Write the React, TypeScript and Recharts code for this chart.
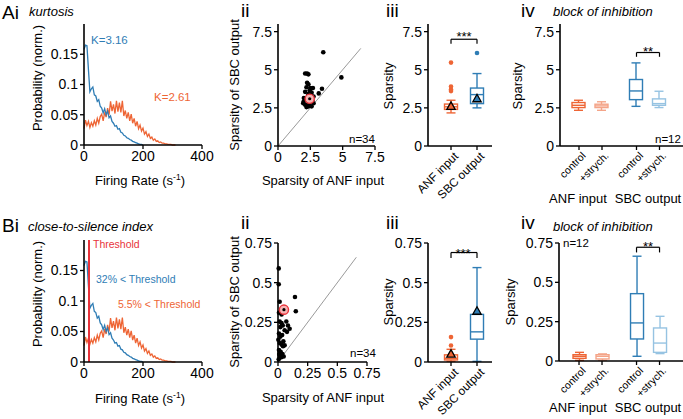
import React from "react"
import { ComposedChart, Line, Scatter, Bar, XAxis, YAxis, ReferenceLine } from "recharts"

const BLUE = "#2f7db5"
const ORANGE = "#ee6535"
const LIGHT_ORANGE = "#f4a488"
const LIGHT_BLUE = "#96c3e2"
const RED = "#e8333b"
const FONT = "'Liberation Sans', Arial, Helvetica, sans-serif"

// firing rate histograms, 5 Hz bins
const rateBins = [
  0, 5, 10, 15, 20, 25, 30, 35, 40, 45, 50, 55, 60, 65, 70, 75, 80, 85, 90, 95, 100,
  105, 110, 115, 120, 125, 130, 135, 140, 145, 150, 155, 160, 165, 170, 175, 180, 185, 190, 195, 200,
  205, 210, 215, 220, 225, 230, 235, 240, 245, 250, 255, 260, 265, 270, 275, 280, 285, 290, 295, 300,
  305, 310,
]
const sbcProb = [
  0.158, 0.165, 0.164, 0.125, 0.088, 0.093, 0.096, 0.083, 0.081, 0.072, 0.075, 0.064, 0.061, 0.053,
  0.06, 0.05, 0.056, 0.045, 0.048, 0.039, 0.036, 0.031, 0.032, 0.026, 0.027, 0.021, 0.02, 0.016, 0.015,
  0.012, 0.011, 0.009, 0.008, 0.006, 0.005, 0.004, 0.003, 0.002, 0.001, 0.001, 0,
]
const anfProb = [
  0.027, 0.041, 0.032, 0.039, 0.029, 0.037, 0.031, 0.04, 0.033, 0.044, 0.036, 0.047, 0.051, 0.04,
  0.054, 0.046, 0.061, 0.05, 0.072, 0.056, 0.067, 0.052, 0.073, 0.055, 0.07, 0.054, 0.073, 0.048,
  0.057, 0.044, 0.054, 0.04, 0.051, 0.036, 0.044, 0.031, 0.039, 0.027, 0.033, 0.023, 0.028, 0.018,
  0.022, 0.014, 0.018, 0.011, 0.013, 0.008, 0.01, 0.006, 0.007, 0.004, 0.005, 0.003, 0.003, 0.002,
  0.002, 0.001, 0.001, 0.001, 0, 0, 0,
]

// kurtosis per cell: ANF input vs SBC output
const kurtAnf = [
  3.5, 4.9, 3.4, 3.15, 2.1, 2.25, 2.35, 2.25, 2.35, 2.2, 2.5, 2.7, 2.1, 2.35, 2.6, 2.45, 2.0,
  2.25, 2.5, 2.75, 1.95, 2.1, 2.35, 2.6, 2.75, 1.98, 2.2, 2.5, 2.3, 2.55, 2.15, 2.4, 2.65,
]
const kurtSbc = [
  6.15, 4.5, 3.75, 3.45, 4.75, 4.75, 4.7, 4.15, 4.05, 3.85, 3.8, 3.8, 3.55, 3.4, 3.5, 3.65, 3.15,
  3.0, 3.05, 3.25, 2.8, 2.7, 2.6, 2.6, 2.8, 2.9, 2.55, 2.9, 3.2, 3.35, 3.1, 2.75, 3.0,
]
const kurtExample = [2.45, 3.1]

// close-to-silence index per cell
const ctsAnf = [
  0.006, 0.006, 0.014, 0.008, 0.03, 0.014, 0.03, 0.04, 0.143, 0.15, 0.07, 0.084, 0.098, 0.076,
  0.056, 0.008, 0.02, 0.003, 0.014, 0.03, 0.042, 0.056, 0.008, 0.022, 0.037, 0.014, 0.028, 0.048,
  0.006, 0.02, 0.045, 0.01, 0.035,
]
const ctsSbc = [
  0.59, 0.49, 0.38, 0.31, 0.3, 0.255, 0.245, 0.23, 0.41, 0.32, 0.255, 0.23, 0.21, 0.19, 0.2, 0.18,
  0.16, 0.14, 0.12, 0.11, 0.1, 0.105, 0.075, 0.065, 0.05, 0.04, 0.03, 0.035, 0.017, 0.22, 0.13,
  0.05, 0.17,
]
const ctsExample = [0.05, 0.33]

// box plots: [min, q1, median, q3, max]
const groupLabels = ["ANF input", "SBC output"]
const groupSlots = [0, 1]
const kurtBoxes = [
  [2.17, 2.4, 2.57, 2.75, 3.0],
  [2.5, 2.78, 3.37, 3.8, 4.75],
]
const kurtOutliers = [[3.6, 3.7, 3.9, 5.47], [6.1]]
const kurtMeans = [2.6, 3.1]
const ctsBoxes = [
  [0.004, 0.013, 0.023, 0.045, 0.08],
  [0.004, 0.144, 0.19, 0.3, 0.595],
]
const ctsOutliers = [[0.104, 0.157], []]
const ctsMeans = [0.05, 0.32]

const blockLabels = ["control", "+strych.", "control", "+strych."]
const blockSlots = [0, 1, 2.5, 3.5]
const kurtBlockBoxes = [
  [2.34, 2.52, 2.67, 2.85, 3.0],
  [2.34, 2.52, 2.63, 2.74, 2.9],
  [2.6, 3.04, 3.61, 4.36, 5.45],
  [2.52, 2.67, 2.78, 3.09, 3.59],
]
const ctsBlockBoxes = [
  [0.004, 0.017, 0.03, 0.04, 0.055],
  [0.004, 0.013, 0.03, 0.04, 0.045],
  [0.03, 0.14, 0.242, 0.428, 0.666],
  [0.047, 0.055, 0.114, 0.21, 0.284],
]

type Plot = { l: number; r: number; t: number; b: number }

const YW = 50
const MT = 8
const MR = 16

function frame(p: Plot, xh: number): React.CSSProperties {
  return {
    position: "absolute",
    left: p.l - YW,
    top: p.t - MT,
    width: p.r - p.l + YW + MR,
    height: p.b - p.t + MT + xh,
  }
}

function size(p: Plot, xh: number) {
  return { width: p.r - p.l + YW + MR, height: p.b - p.t + MT + xh }
}

const axisProps = {
  axisLine: { stroke: "#000", strokeWidth: 1.6 },
  tickLine: { stroke: "#000", strokeWidth: 1.3 },
  tickSize: 4,
  tick: { fill: "#000", fontSize: 14, fontFamily: FONT },
  interval: 0 as const,
}

function HistPanel({ p, threshold }: { p: Plot; threshold?: number }) {
  const sbc = sbcProb.map((v, i) => ({ x: rateBins[i], p: v }))
  const anf = anfProb.map((v, i) => ({ x: rateBins[i], p: v }))
  return (
    <div style={frame(p, 30)}>
      <ComposedChart {...size(p, 30)} margin={{ top: MT, right: MR, bottom: 0, left: 0 }}>
        <XAxis type="number" dataKey="x" domain={[0, 400]} ticks={[0, 200, 400]} height={30} {...axisProps} />
        <YAxis type="number" domain={[0, 0.2]} ticks={[0, 0.05, 0.1, 0.15]} width={YW} {...axisProps} />
        <Line data={anf} dataKey="p" type="linear" stroke={ORANGE} strokeWidth={1.3} dot={false} isAnimationActive={false} />
        <Line data={sbc} dataKey="p" type="linear" stroke={BLUE} strokeWidth={1.3} dot={false} isAnimationActive={false} />
        {threshold != null && <ReferenceLine x={threshold} stroke={RED} strokeWidth={2} />}
      </ComposedChart>
    </div>
  )
}

const Dot = (props: any) => <circle cx={props.cx} cy={props.cy} r={2.3} fill="#000" />

const ExampleDot = (props: any) => (
  <g>
    <circle cx={props.cx} cy={props.cy} r={4.6} fill="#f6b3b3" stroke={RED} strokeWidth={1.4} />
    <circle cx={props.cx} cy={props.cy} r={1.6} fill="#000" />
  </g>
)

function ScatterPanel(props: {
  p: Plot
  xs: number[]
  ys: number[]
  example: number[]
  xMax: number
  yMax: number
  ticks: number[]
  diagEnd: number
}) {
  const { p, xs, ys, example, xMax, yMax, ticks, diagEnd } = props
  const pts = xs.map((x, i) => ({ x, y: ys[i] }))
  const ex = [{ x: example[0], y: example[1] }]
  return (
    <div style={frame(p, 30)}>
      <ComposedChart {...size(p, 30)} margin={{ top: MT, right: MR, bottom: 0, left: 0 }}>
        <XAxis type="number" dataKey="x" domain={[0, xMax]} ticks={ticks} height={30} {...axisProps} />
        <YAxis type="number" dataKey="y" domain={[0, yMax]} ticks={ticks} width={YW} {...axisProps} />
        <ReferenceLine
          segment={[{ x: 0, y: 0 }, { x: diagEnd, y: diagEnd }]}
          stroke="#9a9a9a"
          strokeWidth={1}
        />
        <Scatter data={pts} dataKey="y" shape={<Dot />} isAnimationActive={false} />
        <Scatter data={ex} dataKey="y" shape={<ExampleDot />} isAnimationActive={false} />
      </ComposedChart>
    </div>
  )
}

function BoxShape(props: any) {
  const { x, y, width, height, color } = props
  const stats: number[] = props.payload?.stats ?? props.stats
  if (!stats) return null
  const [lo, q1, med, q3, hi] = stats
  const top = Math.min(y, y + height)
  const bot = Math.max(y, y + height)
  const py = (v: number) => bot - ((v - lo) / (hi - lo)) * (bot - top)
  const cx = x + width / 2
  const bw = 13
  const cw = 9
  return (
    <g stroke={color} strokeWidth={1.4} fill="none">
      <line x1={cx} x2={cx} y1={py(hi)} y2={py(q3)} />
      <line x1={cx} x2={cx} y1={py(q1)} y2={py(lo)} />
      <line x1={cx - cw / 2} x2={cx + cw / 2} y1={py(hi)} y2={py(hi)} />
      <line x1={cx - cw / 2} x2={cx + cw / 2} y1={py(lo)} y2={py(lo)} />
      <rect x={cx - bw / 2} y={py(q3)} width={bw} height={Math.max(0.5, py(q1) - py(q3))} />
      <line x1={cx - bw / 2} x2={cx + bw / 2} y1={py(med)} y2={py(med)} />
    </g>
  )
}

const Outlier = (props: any) => (
  <circle cx={props.cx} cy={props.cy} r={2.3} fill={props.payload?.color ?? "#000"} />
)

const MeanMark = (props: any) => {
  const { cx, cy } = props
  return (
    <polygon
      points={`${cx},${cy - 4.5} ${cx - 4.2},${cy + 3} ${cx + 4.2},${cy + 3}`}
      fill={props.payload?.color}
      stroke="#000"
      strokeWidth={1.3}
    />
  )
}

const SlantTick = (props: any) => {
  const { x, y, payload, labels, slots, fontSize } = props
  const i = slots.indexOf(payload.value)
  return (
    <g transform={`translate(${x + 2},${y - 1}) rotate(-45)`}>
      <text textAnchor="end" dy="0.72em" fontSize={fontSize} fill="#000" fontFamily={FONT}>
        {labels[i]}
      </text>
    </g>
  )
}

function BoxPanel(props: {
  p: Plot
  slots: number[]
  labels: string[]
  labelSize: number
  boxes: number[][]
  colors: string[]
  outliers?: number[][]
  means?: number[]
  xDomain: [number, number]
  yMax: number
  yTicks: number[]
  bracket: [number, number, number, number]
}) {
  const { p, slots, labels, labelSize, boxes, colors, outliers, means, xDomain, yMax, yTicks, bracket } = props
  const rows = boxes.map((s, i) => ({ x: slots[i], y: s[2], range: [s[0], s[4]], stats: s }))
  const outPts = (outliers ?? []).flatMap((arr, i) => arr.map((v) => ({ x: slots[i], y: v, color: colors[i] })))
  const meanPts = (means ?? []).map((v, i) => ({ x: slots[i], y: v, color: colors[i] }))
  const [xa, xb, yTop, yLeg] = bracket
  const br = { stroke: "#000", strokeWidth: 1.2 }
  const XH = 56
  return (
    <div style={frame(p, XH)}>
      <ComposedChart data={rows} {...size(p, XH)} margin={{ top: MT, right: MR, bottom: 0, left: 0 }}>
        <XAxis
          type="number"
          dataKey="x"
          domain={xDomain}
          ticks={slots}
          height={XH}
          {...axisProps}
          tick={<SlantTick labels={labels} slots={slots} fontSize={labelSize} />}
        />
        <YAxis type="number" dataKey="y" domain={[0, yMax]} ticks={yTicks} width={YW} {...axisProps} />
        <Bar
          dataKey="range"
          barSize={12}
          isAnimationActive={false}
          shape={(bp: any) => {
            const i = slots.indexOf(bp.payload?.x ?? bp.x)
            return <BoxShape {...bp} color={colors[i]} />
          }}
        />
        {outPts.length > 0 && <Scatter data={outPts} dataKey="y" shape={<Outlier />} isAnimationActive={false} />}
        {meanPts.length > 0 && <Scatter data={meanPts} dataKey="y" shape={<MeanMark />} isAnimationActive={false} />}
        <ReferenceLine segment={[{ x: xa, y: yTop }, { x: xb, y: yTop }]} {...br} />
        <ReferenceLine segment={[{ x: xa, y: yTop }, { x: xa, y: yLeg }]} {...br} />
        <ReferenceLine segment={[{ x: xb, y: yTop }, { x: xb, y: yLeg }]} {...br} />
      </ComposedChart>
    </div>
  )
}

type Txt = {
  x: number
  y: number
  s: string
  size?: number
  color?: string
  anchor?: "start" | "middle" | "end"
  italic?: boolean
  rot?: boolean
}

const labels: Txt[] = [
  { x: 2, y: 19, s: "Ai", size: 19 },
  { x: 29, y: 16, s: "kurtosis", size: 13, italic: true },
  { x: 42, y: 78, s: "Probability (norm.)", size: 13, anchor: "middle", rot: true },
  { x: 91, y: 44, s: "K=3.16", size: 11.5, color: BLUE },
  { x: 154, y: 101, s: "K=2.61", size: 11.5, color: ORANGE },
  { x: 241, y: 17, s: "ii", size: 19 },
  { x: 239, y: 85, s: "Sparsity of SBC output", size: 13, anchor: "middle", rot: true },
  { x: 323, y: 185, s: "Sparsity of ANF input", size: 13, anchor: "middle" },
  { x: 349, y: 143, s: "n=34", size: 11.5 },
  { x: 386, y: 17, s: "iii", size: 19 },
  { x: 393, y: 86, s: "Sparsity", size: 13, anchor: "middle", rot: true },
  { x: 464, y: 41, s: "***", size: 13, anchor: "middle" },
  { x: 521, y: 17, s: "iv", size: 19 },
  { x: 553, y: 16, s: "block of inhibition", size: 13, italic: true },
  { x: 522, y: 86, s: "Sparsity", size: 13, anchor: "middle", rot: true },
  { x: 648, y: 56, s: "**", size: 13, anchor: "middle" },
  { x: 655, y: 143, s: "n=12", size: 11.5 },
  { x: 578, y: 203, s: "ANF input", size: 13, anchor: "middle" },
  { x: 648, y: 203, s: "SBC output", size: 13, anchor: "middle" },

  { x: 2, y: 232, s: "Bi", size: 19 },
  { x: 28, y: 231, s: "close-to-silence index", size: 13, italic: true },
  { x: 42, y: 294, s: "Probability (norm.)", size: 13, anchor: "middle", rot: true },
  { x: 93, y: 248, s: "Threshold", size: 10.5, color: RED },
  { x: 96, y: 283, s: "32% < Threshold", size: 10.5, color: BLUE },
  { x: 118, y: 308, s: "5.5% < Threshold", size: 10.5, color: ORANGE },
  { x: 241, y: 229, s: "ii", size: 19 },
  { x: 239, y: 302, s: "Sparsity of SBC output", size: 13, anchor: "middle", rot: true },
  { x: 323, y: 402, s: "Sparsity of ANF input", size: 13, anchor: "middle" },
  { x: 350, y: 357, s: "n=34", size: 11.5 },
  { x: 386, y: 229, s: "iii", size: 19 },
  { x: 393, y: 302, s: "Sparsity", size: 13, anchor: "middle", rot: true },
  { x: 463, y: 258, s: "***", size: 13, anchor: "middle" },
  { x: 521, y: 229, s: "iv", size: 19 },
  { x: 553, y: 231, s: "block of inhibition", size: 13, italic: true },
  { x: 515, y: 302, s: "Sparsity", size: 13, anchor: "middle", rot: true },
  { x: 563, y: 247, s: "n=12", size: 11.5 },
  { x: 648, y: 251, s: "**", size: 13, anchor: "middle" },
  { x: 578, y: 412, s: "ANF input", size: 13, anchor: "middle" },
  { x: 648, y: 412, s: "SBC output", size: 13, anchor: "middle" },
]

function RateLabel({ x, y }: { x: number; y: number }) {
  return (
    <text x={x} y={y} textAnchor="middle" fontSize={13} fill="#000">
      Firing Rate (s
      <tspan dy={-5} fontSize={8.5}>-1</tspan>
      <tspan dy={5}>)</tspan>
    </text>
  )
}

export default function App() {
  return (
    <div
      style={{
        position: "absolute",
        left: 0,
        top: 0,
        width: 683,
        height: 419,
        overflow: "hidden",
        background: "#fff",
        fontFamily: FONT,
      }}
    >
      <HistPanel p={{ l: 84, r: 202, t: 24, b: 145 }} />
      <HistPanel p={{ l: 84, r: 202, t: 240, b: 362 }} threshold={17} />

      <ScatterPanel
        p={{ l: 278, r: 375, t: 24, b: 146 }}
        xs={kurtAnf}
        ys={kurtSbc}
        example={kurtExample}
        xMax={7.5}
        yMax={8}
        ticks={[0, 2.5, 5, 7.5]}
        diagEnd={6.4}
      />
      <ScatterPanel
        p={{ l: 278, r: 367, t: 243, b: 362 }}
        xs={ctsAnf}
        ys={ctsSbc}
        example={ctsExample}
        xMax={0.75}
        yMax={0.75}
        ticks={[0, 0.25, 0.5, 0.75]}
        diagEnd={0.66}
      />

      <BoxPanel
        p={{ l: 428, r: 492, t: 24, b: 146 }}
        slots={groupSlots}
        labels={groupLabels}
        labelSize={11.8}
        boxes={kurtBoxes}
        colors={[ORANGE, BLUE]}
        outliers={kurtOutliers}
        means={kurtMeans}
        xDomain={[-0.885, 1.577]}
        yMax={8}
        yTicks={[0, 2.5, 5, 7.5]}
        bracket={[0, 1, 7.0, 6.7]}
      />
      <BoxPanel
        p={{ l: 428, r: 492, t: 243, b: 362 }}
        slots={groupSlots}
        labels={groupLabels}
        labelSize={11.8}
        boxes={ctsBoxes}
        colors={[ORANGE, BLUE]}
        outliers={ctsOutliers}
        means={ctsMeans}
        xDomain={[-0.885, 1.577]}
        yMax={0.75}
        yTicks={[0, 0.25, 0.5, 0.75]}
        bracket={[0, 1, 0.69, 0.655]}
      />

      <BoxPanel
        p={{ l: 560, r: 683, t: 24, b: 146 }}
        slots={blockSlots}
        labels={blockLabels}
        labelSize={10.5}
        boxes={kurtBlockBoxes}
        colors={[ORANGE, LIGHT_ORANGE, BLUE, LIGHT_BLUE]}
        xDomain={[-0.826, 4.522]}
        yMax={8}
        yTicks={[0, 2.5, 5, 7.5]}
        bracket={[2.5, 3.5, 6.13, 5.85]}
      />
      <BoxPanel
        p={{ l: 559, r: 683, t: 243, b: 361 }}
        slots={blockSlots}
        labels={blockLabels}
        labelSize={10.5}
        boxes={ctsBlockBoxes}
        colors={[ORANGE, LIGHT_ORANGE, BLUE, LIGHT_BLUE]}
        xDomain={[-0.87, 4.52]}
        yMax={0.75}
        yTicks={[0, 0.25, 0.5, 0.75]}
        bracket={[2.5, 3.5, 0.723, 0.69]}
      />

      <svg
        width={683}
        height={419}
        style={{ position: "absolute", left: 0, top: 0, pointerEvents: "none" }}
        fontFamily={FONT}
      >
        {labels.map((t, i) => (
          <text
            key={i}
            x={t.rot ? 0 : t.x}
            y={t.rot ? 0 : t.y}
            transform={t.rot ? `translate(${t.x},${t.y}) rotate(-90)` : undefined}
            fontSize={t.size ?? 13}
            fill={t.color ?? "#000"}
            textAnchor={t.anchor ?? "start"}
            fontStyle={t.italic ? "italic" : "normal"}
          >
            {t.s}
          </text>
        ))}
        <RateLabel x={140} y={185} />
        <RateLabel x={140} y={403} />
      </svg>
    </div>
  )
}
